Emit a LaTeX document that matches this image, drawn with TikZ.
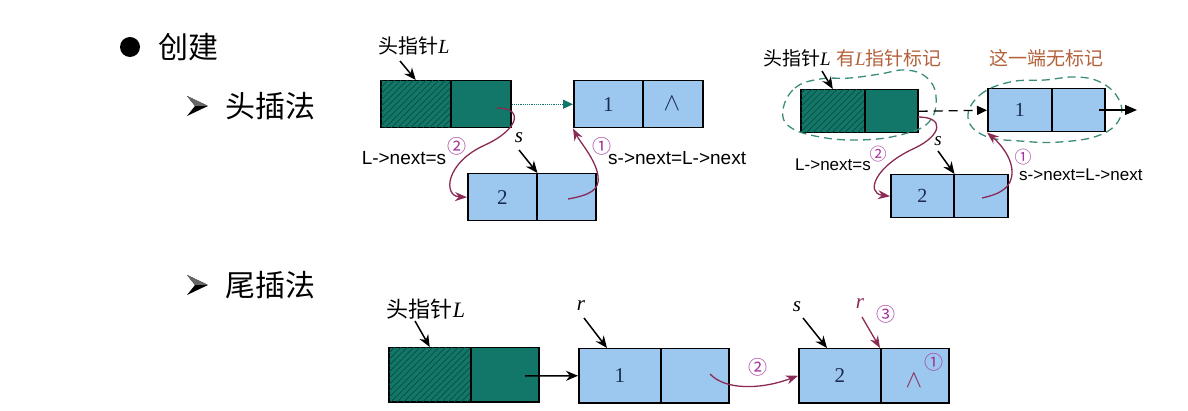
\documentclass[tikz,border=0pt]{standalone}
\usepackage{fontspec}
\setmainfont{Liberation Serif}
\newfontfamily\cjk{Noto Sans CJK SC}
\newfontfamily\lsans{Liberation Sans}
\newfontfamily\dejavu{DejaVu Sans}
\usetikzlibrary{patterns.meta,arrows.meta,calc}
\definecolor{teal1}{HTML}{127768}
\definecolor{hatchc}{HTML}{0A4A42}
\definecolor{lblue}{HTML}{9CC8F0}
\definecolor{maroon1}{HTML}{8B2A55}
\definecolor{circc}{HTML}{A3349C}
\definecolor{brown1}{HTML}{B4623C}
\definecolor{ellc}{HTML}{3B8C7A}
\definecolor{numc}{HTML}{1A2A50}
\tikzset{
 cellT/.style={draw=black, line width=1.5pt, fill=teal1, inner sep=0pt, anchor=north west},
 hatched/.style={postaction={pattern={Lines[angle=45,distance=4.5pt,line width=0.7pt]}, pattern color=hatchc}},
 cellB/.style={draw=black, line width=1.5pt, fill=lblue, inner sep=0pt, anchor=north west, text=numc, font=\fontsize{21}{21}\selectfont},
 ptr/.style={-{Stealth[length=12pt,width=10pt]}, line width=1.5pt, black},
 redarr/.style={maroon1, line width=1.3pt, -{Stealth[length=12pt,width=9pt]}},
 circ/.style={text=circc, font=\cjk\fontsize{19}{19}\selectfont, inner sep=0pt},
 code/.style={font=\lsans\fontsize{19}{19}\selectfont, inner sep=0pt},
 lab/.style={font=\cjk\fontsize{20}{20}\selectfont, inner sep=0pt},
 tlab/.style={font=\cjk\fontsize{30}{30}\selectfont, inner sep=0pt, anchor=west},
 ell/.style={ellc, line width=1.3pt, dash pattern=on 8pt off 5pt},
 var/.style={font=\itshape\fontsize{21}{21}\selectfont, inner sep=0pt},
 nil/.style={inner sep=0pt, font=\fontsize{30}{30}\selectfont},
}
\begin{document}
\begin{tikzpicture}[x=1pt,y=-1pt]
\useasboundingbox (0,0) rectangle (1188,411);
\fill[white] (0,0) rectangle (1188,411);

% ---------- titles ----------
\fill[black] (130,47) circle (10);
\node[tlab] (t1) at (158,47) {创建};
\fill[black] (208,106) -- (187,96) -- (195,106) -- (187,116) -- cycle;
\fill[black!60] (208,106) -- (187,96) -- (195,106) -- cycle;
\node[tlab] (t2) at (225,106) {头插法};
\fill[black] (208,285) -- (187,275) -- (195,285) -- (187,295) -- cycle;
\fill[black!60] (208,285) -- (187,275) -- (195,285) -- cycle;
\node[tlab] (t3) at (225,285) {尾插法};

% ---------- top-left ----------
\node[cellT, hatched, minimum width=70pt, minimum height=47pt] (A1) at (380,80) {};
\node[cellT, minimum width=60pt, minimum height=47pt] (A2) at (450,80) {};
\node[cellB, minimum width=69pt, minimum height=47pt] (B1) at (573,80) {1};
\node[cellB, minimum width=60pt, minimum height=47pt] (B2) at (642,80) {};
\node[nil, text=numc] (B2n) at (672,104) {$\wedge$};
\node[cellB, minimum width=69pt, minimum height=47pt] (C1) at (467,173) {2};
\node[cellB, minimum width=59pt, minimum height=47pt] (C2) at (536,173) {};

\node[lab] (tlL) at (414,46) {头指针{\rmfamily\itshape L}};
\coordinate (tlLs) at (400,61);
\draw[ptr] (tlLs) -- (A1.north);
\draw[teal1, line width=1.2pt, densely dotted, -{Triangle[length=10pt,width=9pt]}] (A2.east) -- (B1.west);
\node[var] (tls) at (519,138) {s};
\coordinate (tlss) at (519,150);
\draw[ptr] (tlss) -- (C1.north east);
\coordinate (c2s) at (497,108);
\draw[redarr] (c2s) .. controls (525,108) and (518,130) .. (485,145) .. controls (445,163) and (443,196) .. (C1.west);
\coordinate (c1s) at (568,199);
\draw[redarr] (c1s) .. controls (590,195) and (600,190) .. (598,176) .. controls (596,160) and (580,142) .. (B1.south west);
\node[circ] (tlc2) at (457,146) {②};
\node[code] (tlt2) at (404,158) {L->next=s};
\node[circ] (tlc1) at (602,146) {①};
\node[code, anchor=west] (tlt1) at (608,158) {s->next=L->next};

% ---------- top-right ----------
\node[cellT, hatched, minimum width=64pt, minimum height=43pt] (D1) at (800,89) {};
\node[cellT, minimum width=53pt, minimum height=43pt] (D2) at (864,89) {};
\node[cellB, minimum width=64pt, minimum height=43pt, font=\fontsize{20}{20}\selectfont] (E1) at (987,88) {1};
\node[cellB, minimum width=53pt, minimum height=43pt] (E2) at (1051,88) {};
\node[cellB, minimum width=63pt, minimum height=43pt, font=\fontsize{20}{20}\selectfont] (F1) at (890,174) {2};
\node[cellB, minimum width=54pt, minimum height=43pt] (F2) at (953,174) {};

\draw[ell] plot[smooth cycle, tension=0.7] coordinates {(783,110) (795,88) (820,79) (850,78) (880,74) (905,70) (926,77) (936,96) (929,122) (900,135) (860,140) (820,137) (790,127)};
\draw[ell] plot[smooth cycle, tension=0.7] coordinates {(968,118) (980,95) (1010,82) (1045,80) (1075,77) (1100,82) (1118,98) (1120,118) (1100,135) (1060,142) (1020,141) (985,136)};

\node[lab, font=\cjk\fontsize{19}{19}\selectfont] (trL) at (797,58) {头指针{\rmfamily\itshape L}};
\node[lab, font=\cjk\fontsize{19}{19}\selectfont, text=brown1] (trm1) at (889,58) {有{\rmfamily\itshape L}指针标记};
\node[lab, font=\cjk\fontsize{19}{19}\selectfont, text=brown1] (trm2) at (1046,58) {这一端无标记};
\coordinate (trLs) at (822,71);
\draw[ptr] (trLs) -- (D1.north);
\draw[black, line width=1.3pt, dash pattern=on 9pt off 6pt, -{Triangle[length=10pt,width=9pt]}] (D2.east) -- (E1.west);
\coordinate (tre2) at (1137,110);
\coordinate (tre1) at (1099,110);
\draw[black, line width=1.3pt, -{Triangle[length=12pt,width=10pt]}] (tre1) -- (tre2);
\node[var, font=\itshape\fontsize{19}{19}\selectfont] (trs) at (938,141) {s};
\coordinate (trss) at (938,151);
\draw[ptr] (trss) -- (F1.north east);
\coordinate (d2s) at (918,117);
\draw[redarr] (d2s) .. controls (945,117) and (942,135) .. (915,148) .. controls (875,166) and (865,193) .. (F1.west);
\coordinate (d1s) at (982,198);
\draw[redarr] (d1s) .. controls (1000,194) and (1012,188) .. (1012,172) .. controls (1012,155) and (996,140) .. (E1.south west);
\node[circ, font=\cjk\fontsize{17}{17}\selectfont] (trc2) at (878,154) {②};
\node[code, font=\lsans\fontsize{17}{17}\selectfont] (trt2) at (833,165) {L->next=s};
\node[circ, font=\cjk\fontsize{17}{17}\selectfont] (trc1) at (1023,157) {①};
\node[code, font=\lsans\fontsize{17}{17}\selectfont, anchor=west] (trt1) at (1019,175) {s->next=L->next};

% ---------- bottom ----------
\node[cellT, hatched, minimum width=82pt, minimum height=54pt] (G1) at (388,347) {};
\node[cellT, minimum width=68pt, minimum height=54pt] (G2) at (470,347) {};
\node[cellB, minimum width=82pt, minimum height=54pt] (H1) at (578,348) {1};
\node[cellB, minimum width=68pt, minimum height=54pt] (H2) at (660,348) {};
\node[cellB, minimum width=82pt, minimum height=54pt] (I1) at (798,348) {2};
\node[cellB, minimum width=68pt, minimum height=54pt] (I2) at (880,348) {};

\node[lab, font=\cjk\fontsize{22}{22}\selectfont] (bL) at (426,309) {头指针{\rmfamily\itshape L}};
\coordinate (bLs) at (415,321);
\draw[ptr] (bLs) -- (G1.north);
\coordinate (g2s) at (525,376);
\draw[ptr] (g2s) -- (H1.west);
\node[var] (br) at (581,306) {r};
\coordinate (brs) at (584,318);
\draw[ptr] (brs) -- ([xshift=29pt]H1.north west);
\node[var] (bs) at (797,307) {s};
\coordinate (bss) at (803,318);
\draw[ptr] (bss) -- ([xshift=29pt]I1.north west);
\node[var, text=maroon1] (br2) at (860,304) {r};
\node[circ] (bc3) at (886,314) {③};
\coordinate (br2s) at (862,317);
\draw[redarr] (br2s) -- (I2.north west);
\coordinate (h2s) at (710,374);
\draw[redarr] (h2s) .. controls (725,390) and (760,390) .. (I1.west);
\node[circ] (bc2) at (758,367) {②};
\node[nil, text=maroon1] (bnil) at (914,381) {$\wedge$};
\node[circ] (bc1) at (934,362) {①};
\end{tikzpicture}
\end{document}
